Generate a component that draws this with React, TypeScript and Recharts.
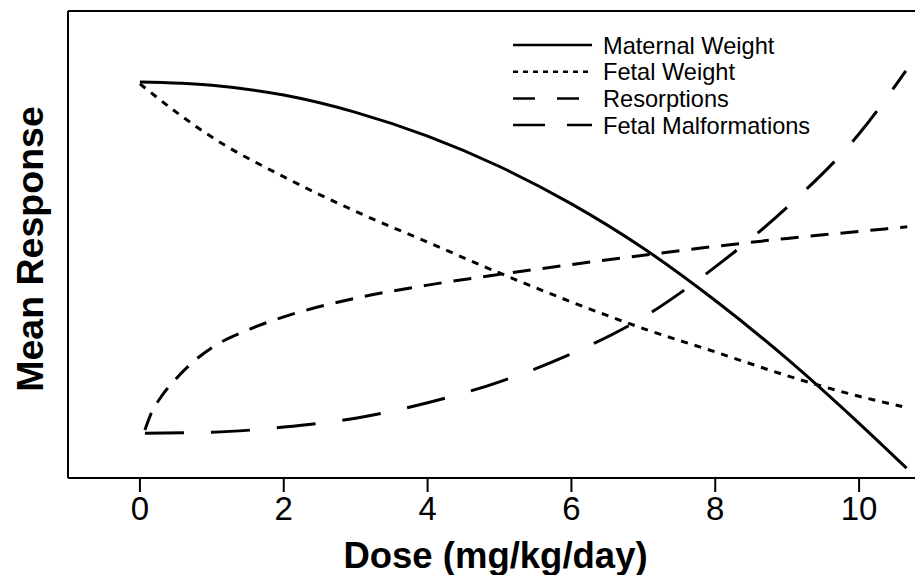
import React from 'react';
import { LineChart, Line, XAxis, YAxis, ReferenceLine, Label } from 'recharts';

const FONT = '"Liberation Sans", Arial, Helvetica, sans-serif';

// Dose (mg/kg/day) tick labels
const xTicks = [0, 2, 4, 6, 8, 10];

// Maternal Weight
const maternalDose = [0, 1, 2, 3, 4, 5, 6, 7, 8, 9, 10, 10.66];
const maternalResp = [84.8, 84.1, 82.0, 78.3, 73.2, 66.7, 58.7, 49.2, 38.0, 25.5, 11.7, 2.1];

// Fetal Weight
const fetalDose = [0, 0.5, 1, 2, 3, 4, 5, 6, 7, 8, 9, 10, 10.6];
const fetalResp = [84.4, 78.4, 73.0, 64.5, 57.1, 50.5, 43.9, 37.7, 32.0, 27.0, 21.9, 17.5, 15.3];

// Resorptions
const resorpDose = [0.07, 0.15, 0.3, 0.5, 0.75, 1, 1.5, 2, 3, 4, 5, 6, 7, 8, 9, 10, 10.67];
const resorpResp = [10.3, 13.6, 17.5, 21.2, 25.0, 27.9, 31.7, 34.5, 38.5, 41.3, 43.6, 45.7, 47.7, 49.6, 51.3, 52.8, 53.8];

// Fetal Malformations
const malfDose = [0.07, 1, 2, 3, 4, 5, 6, 7, 8, 9, 10, 10.65];
const malfResp = [9.6, 9.8, 10.9, 12.8, 16.1, 20.6, 26.6, 34.4, 45.2, 58.0, 73.7, 87.2];

const seriesNames = ['Maternal Weight', 'Fetal Weight', 'Resorptions', 'Fetal Malformations'];

const build = (d: number[], v: number[]) => d.map((x, i) => ({ d: x, v: v[i] }));

const maternalData = build(maternalDose, maternalResp);
const fetalData = build(fetalDose, fetalResp);
const resorpData = build(resorpDose, resorpResp);
const malfData = build(malfDose, malfResp);

const legendDash = ['', '5 5', '22 22', '32 22'];

const LegendBox = () => (
  <svg width={330} height={120} style={{ position: 'absolute', left: 505, top: 28, display: 'block' }}>
    {seriesNames.map((name, i) => {
      const cy = 17 + i * 26.7;
      return (
        <g key={name}>
          <line x1={8} x2={87} y1={cy} y2={cy} stroke="#000" strokeWidth={2.5}
            strokeDasharray={legendDash[i] || undefined} />
          <text x={98} y={cy + 8.5} fontFamily={FONT} fontSize={23.6} fill="#000">{name}</text>
        </g>
      );
    })}
  </svg>
);

export default function App() {
  return (
    <div style={{ position: 'absolute', left: 0, top: 0, width: 915, height: 575, overflow: 'hidden', background: '#fff' }}>
      <LineChart width={940} height={575} margin={{ top: 11, right: 9, bottom: 0, left: 8 }}>
        <XAxis
          dataKey="d"
          type="number"
          domain={[-1, 11]}
          ticks={xTicks}
          allowDataOverflow
          height={97}
          axisLine={{ stroke: '#000', strokeWidth: 2 }}
          tickLine={{ stroke: '#000', strokeWidth: 2 }}
          tickSize={14}
          tickMargin={5}
          tick={{ fontSize: 33, fill: '#000', fontFamily: FONT }}
        >
          <Label
            content={(props: any) => {
              const vb = props.viewBox || { x: 68, y: 478, width: 863, height: 97 };
              return (
                <text x={495.5} y={vb.y + 90} textAnchor="middle" fontFamily={FONT}
                  fontWeight="bold" fontSize={36.5} fill="#000">Dose (mg/kg/day)</text>
              );
            }}
          />
        </XAxis>
        <YAxis
          type="number"
          domain={[0, 100]}
          allowDataOverflow
          width={60}
          tick={false}
          tickLine={false}
          axisLine={{ stroke: '#000', strokeWidth: 2 }}
        >
          <Label
            content={() => (
              <text x={43} y={249} transform="rotate(-90 43 249)" textAnchor="middle"
                fontFamily={FONT} fontWeight="bold" fontSize={37.5} fill="#000">Mean Response</text>
            )}
          />
        </YAxis>
        <ReferenceLine y={100} stroke="#000" strokeWidth={2} />
        <Line data={maternalData} dataKey="v" name={seriesNames[0]} type="monotone" stroke="#000"
          strokeWidth={3} dot={false} isAnimationActive={false} />
        <Line data={fetalData} dataKey="v" name={seriesNames[1]} type="monotone" stroke="#000"
          strokeWidth={3} strokeDasharray="7 7" dot={false} isAnimationActive={false} />
        <Line data={resorpData} dataKey="v" name={seriesNames[2]} type="monotone" stroke="#000"
          strokeWidth={3} strokeDasharray="18 12" dot={false} isAnimationActive={false} />
        <Line data={malfData} dataKey="v" name={seriesNames[3]} type="monotone" stroke="#000"
          strokeWidth={3} strokeDasharray="39 27" dot={false} isAnimationActive={false} />
      </LineChart>
      <LegendBox />
    </div>
  );
}
